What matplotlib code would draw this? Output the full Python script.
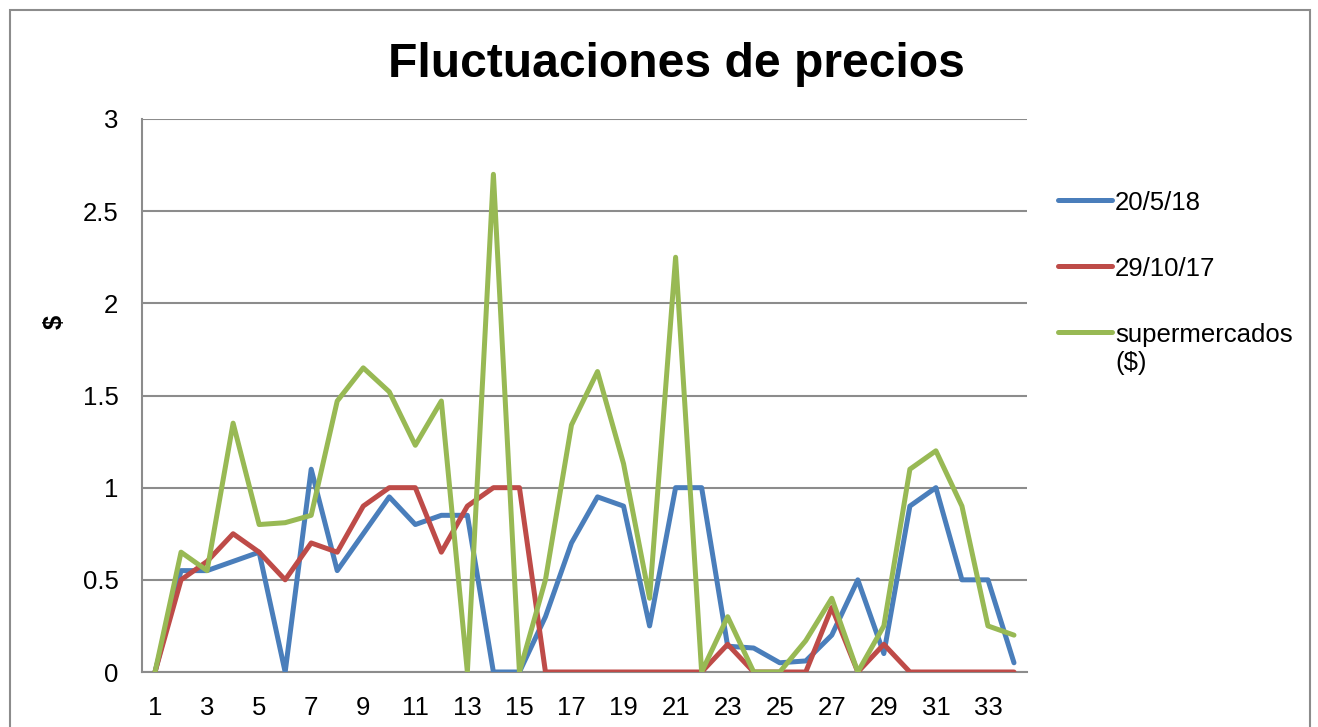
import matplotlib
matplotlib.use("Agg")
import matplotlib.pyplot as plt
from matplotlib.lines import Line2D
from matplotlib.patches import Rectangle

plt.rcParams['font.family'] = ['Liberation Sans', 'DejaVu Sans']

categories = list(range(1, 35))
serie_20_5_18 = [0, 0.55, 0.55, 0.60, 0.65, 0, 1.10, 0.55, 0.75, 0.95,
                 0.80, 0.85, 0.85, 0, 0, 0.30, 0.70, 0.95, 0.90, 0.25,
                 1.0, 1.0, 0.14, 0.13, 0.05, 0.06, 0.20, 0.50, 0.10, 0.90,
                 1.0, 0.50, 0.50, 0.05]
serie_29_10_17 = [0, 0.50, 0.60, 0.75, 0.65, 0.50, 0.70, 0.65, 0.90, 1.0,
                  1.0, 0.65, 0.90, 1.0, 1.0, 0, 0, 0, 0, 0,
                  0, 0, 0.15, 0, 0, 0, 0.35, 0, 0.15, 0,
                  0, 0, 0, 0]
serie_super = [0, 0.65, 0.55, 1.35, 0.80, 0.81, 0.85, 1.47, 1.65, 1.52,
               1.23, 1.47, 0, 2.70, 0, 0.50, 1.34, 1.63, 1.13, 0.40,
               2.25, 0, 0.30, 0, 0, 0.17, 0.40, 0, 0.25, 1.10,
               1.20, 0.90, 0.25, 0.20]
labels = ["20/5/18", "29/10/17", "supermercados\n($)"]
colors = ["#4A7EBB", "#BE4B48", "#98B954"]
yticks = [0, 0.5, 1, 1.5, 2, 2.5, 3]
ytick_labels = ["0", "0.5", "1", "1.5", "2", "2.5", "3"]

W, H = 1318, 727
fig = plt.figure(figsize=(W / 100, H / 100), dpi=100)

def fx(px):
    return px / W

def fy(py):
    return 1 - py / H

FS = 18.5

ax = fig.add_axes([fx(142), fy(672), fx(1027) - fx(142), fy(119) - fy(672)])

for vals, c in zip([serie_20_5_18, serie_29_10_17, serie_super], colors):
    ax.plot(categories, vals, color=c, lw=3.6, solid_joinstyle='round',
            solid_capstyle='round', zorder=3)

ax.set_xlim(0.5, 34.5)
ax.set_ylim(0, 3)
ax.set_yticks(yticks)
ax.set_yticklabels(ytick_labels)
ax.set_xticks(categories[::2])
ax.set_xticklabels([str(c) for c in categories[::2]])
ax.tick_params(axis='both', length=0, labelsize=FS, colors='black')
ax.tick_params(axis='y', pad=17)
ax.tick_params(axis='x', pad=17)
ax.grid(axis='y', color='#8C8C8C', lw=1.5, zorder=1)
for s in ['top', 'right']:
    ax.spines[s].set_visible(False)
for s in ['left', 'bottom']:
    ax.spines[s].set_color('#8C8C8C')
    ax.spines[s].set_linewidth(1.5)

fig.text(fx(55), fy(322), "$", rotation=90, ha='center', va='center',
         fontsize=FS, fontweight='bold')
fig.text(fx(676), fy(77), "Fluctuaciones de precios", ha='center', va='baseline',
         fontsize=34.6, fontweight='bold')

# legend
leg_y = [200, 266, 332]
for lab, c, yy in zip(labels, colors, leg_y):
    fig.add_artist(Line2D([fx(1058), fx(1112)], [fy(yy), fy(yy)], color=c,
                          lw=3.6, solid_capstyle='round'))
    if "\n" in lab:
        fig.text(fx(1115), fy(yy - 9), lab, ha='left', va='top',
                 fontsize=FS, linespacing=1.2)
    else:
        fig.text(fx(1115), fy(yy + 10), lab, ha='left', va='baseline', fontsize=FS)

# outer chart border
fig.add_artist(Rectangle((fx(10), fy(760)), fx(1310) - fx(10), fy(10) - fy(760),
                         fill=False, edgecolor='#8C8C8C', lw=1.5,
                         transform=fig.transFigure))

fig.savefig("out.png", dpi=100, facecolor='white')
